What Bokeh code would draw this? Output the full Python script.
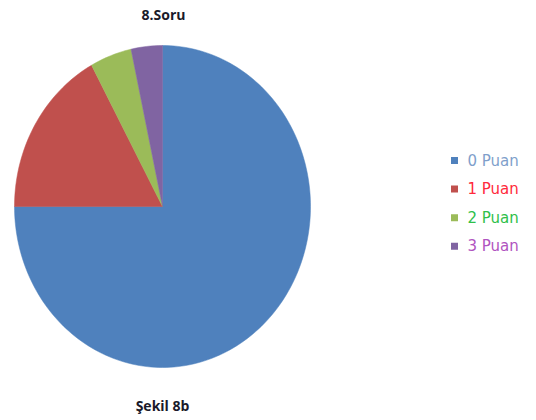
import math
from bokeh.plotting import figure
from bokeh.models import Range1d, ColumnDataSource
from bokeh.core.properties import value
from bokeh.embed import file_html
from bokeh.resources import INLINE

# data
labels = ["0 Puan", "1 Puan", "2 Puan", "3 Puan"]
counts = [66, 15, 4, 3]
slice_colors = ["#4F81BD", "#C0504D", "#9BBB59", "#8064A2"]
label_colors = ["#7F9FCB", "#FF2A3C", "#2FC04A", "#B054C0"]
title_text = "8.Soru"
caption_text = "Şekil 8b"

W, H = 536, 420
p = figure(width=W, height=H, output_backend="svg", toolbar_location=None,
           x_range=Range1d(0, W), y_range=Range1d(0, H), min_border=0)
p.axis.visible = False
p.grid.visible = False
p.outline_line_color = None
p.background_fill_color = "white"
p.border_fill_color = "white"

# pie (slightly stretched vertically, as in the reference)
cx, cy, rx, ry = 162, H - 206, 148, 161
total = sum(counts)
xs, ys = [], []
cum = 0
for c in counts:
    a0 = math.pi / 2 - 2 * math.pi * cum / total
    cum += c
    a1 = math.pi / 2 - 2 * math.pi * cum / total
    n = max(4, int(abs(a1 - a0) / (2 * math.pi) * 240))
    px, py = [cx], [cy]
    for i in range(n + 1):
        a = a0 + (a1 - a0) * i / n
        px.append(cx + rx * math.cos(a))
        py.append(cy + ry * math.sin(a))
    xs.append(px)
    ys.append(py)

src = ColumnDataSource(dict(xs=xs, ys=ys, color=slice_colors, label=labels))
p.patches(xs="xs", ys="ys", fill_color="color", line_color="color",
          line_width=0.5, source=src)

# legend
ly = [H - 160 - 28.6 * i for i in range(len(labels))]
lsrc = ColumnDataSource(dict(x=[454] * 4, tx=[467] * 4, y=ly, label=labels,
                             color=slice_colors, tcolor=label_colors))
p.scatter(x="x", y="y", marker="square", size=7, fill_color="color",
          line_color=None, source=lsrc)
p.text(x="tx", y="y", text="label", text_color="tcolor", text_font=value("DejaVu Sans"),
       text_font_size="15px", text_baseline="middle", source=lsrc)

p.text(x=[163], y=[H - 14], text=[title_text], text_font=value("Open Sans"),
       text_font_size="14px", text_font_style="bold", text_align="center",
       text_baseline="middle", text_color="#1a1a2a")
p.text(x=[162], y=[H - 405], text=[caption_text], text_font=value("Open Sans"),
       text_font_size="14px", text_font_style="bold", text_align="center",
       text_baseline="middle", text_color="#1a1a2a")

open("out.html", "w").write(file_html(p, INLINE))
